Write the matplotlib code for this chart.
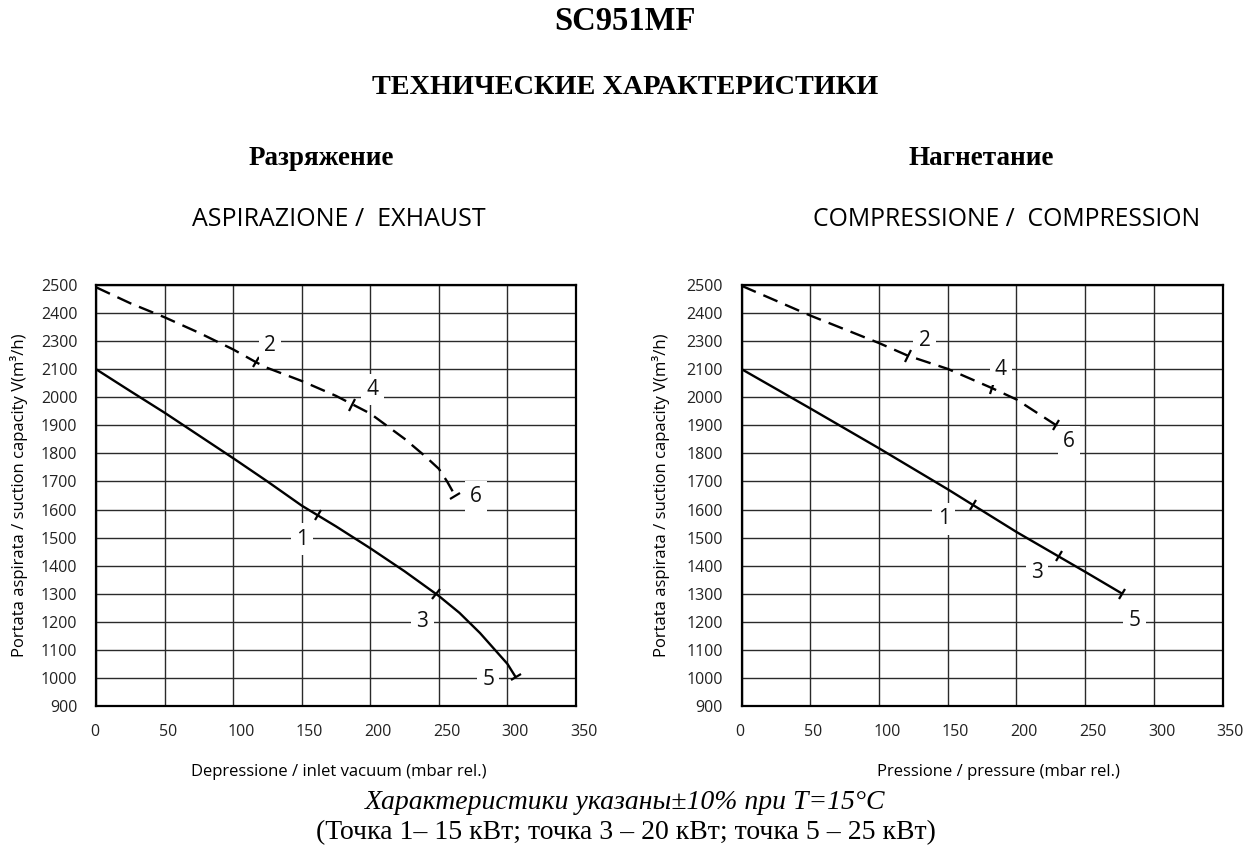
import numpy as np
import matplotlib
matplotlib.use("Agg")
import matplotlib.pyplot as plt
from matplotlib.markers import MarkerStyle
from matplotlib.transforms import Affine2D, ScaledTranslation

# ---------------- data ----------------
x_ticks = [0, 50, 100, 150, 200, 250, 300, 350]
# y labels exactly as printed on the chart (2200 is missing in the original)
y_tick_values = [900, 1000, 1100, 1200, 1300, 1400, 1500, 1600, 1700, 1800,
                 1900, 2000, 2100, 2300, 2400, 2500]

# Left chart: ASPIRAZIONE / EXHAUST
left_solid_x = [0, 25, 50, 75, 100, 125, 150, 175, 200, 225, 250, 265, 280, 290, 300, 306]
left_solid_y = [2100, 2022, 1945, 1864, 1783, 1700, 1614, 1540, 1462, 1380, 1292, 1232,
                1160, 1105, 1050, 1003]
left_dash_x = [0, 25, 50, 75, 100, 117, 125, 150, 175, 200, 225, 240, 250, 256, 262]
left_dash_y = [2492, 2435, 2385, 2330, 2241, 2148, 2109, 2058, 2005, 1942, 1852, 1790,
               1745, 1700, 1648]
left_points = {"1": (162, 1580), "3": (248, 1298), "5": (306, 1003),
               "2": (117, 2148), "4": (187, 1973), "6": (262, 1648)}
left_labels = {"1": (150, 1495), "3": (238, 1200), "5": (286, 995),
               "2": (127, 2266), "4": (201.5, 2028), "6": (277, 1645)}

# Right chart: COMPRESSIONE / COMPRESSION
right_solid_x = [0, 50, 100, 150, 200, 250, 277]
right_solid_y = [2100, 1960, 1818, 1672, 1520, 1378, 1300]
right_dash_x = [0, 50, 100, 121, 150, 182, 200, 229]
right_dash_y = [2497, 2391, 2286, 2196, 2102, 2033, 1992, 1900]
right_points = {"1": (168, 1616), "3": (231, 1435), "5": (277, 1300),
                "2": (121, 2196), "4": (182, 2033), "6": (229, 1900)}
right_labels = {"1": (147, 1567), "3": (215, 1376), "5": (286, 1204),
                "2": (133, 2303), "4": (188.6, 2100), "6": (238, 1841)}

# ---------------- figure ----------------
W, H = 1256, 855
fig = plt.figure(figsize=(W / 100, H / 100), dpi=100)
fig.patch.set_facecolor("white")

SERIF = ["Liberation Serif", "DejaVu Serif"]
SANS = ["Open Sans", "DejaVu Sans"]

pos_idx = np.arange(len(y_tick_values), dtype=float)
vals = np.array(y_tick_values, dtype=float)


def fwd(v):
    return np.interp(v, vals, pos_idx)


def inv(p):
    return np.interp(p, pos_idx, vals)


def px_axes(x0, x1, y0, y1):
    return fig.add_axes([x0 / W, 1 - y1 / H, (x1 - x0) / W, (y1 - y0) / H])


def seg_angle(ax, xs, ys, xt):
    xs = np.asarray(xs, float)
    ys = np.asarray(ys, float)
    i = np.searchsorted(xs, xt)
    i = int(min(max(i, 1), len(xs) - 1))
    p0 = ax.transData.transform((xs[i - 1], ys[i - 1]))
    p1 = ax.transData.transform((xs[i], ys[i]))
    return np.degrees(np.arctan2(p1[1] - p0[1], p1[0] - p0[0]))


def draw_chart(ax, sx, sy, dx, dy, points, labels, xlabel):
    ax.set_yscale("function", functions=(fwd, inv))
    ax.set_xlim(0, 350)
    ax.set_ylim(900, 2500)
    ax.set_xticks(x_ticks)
    ax.set_xticklabels([str(v) for v in x_ticks])
    ax.set_yticks(y_tick_values)
    ax.set_yticklabels([str(v) for v in y_tick_values])
    ax.minorticks_off()
    ax.grid(True, color="#2a2a2a", linewidth=1.0)
    ax.set_axisbelow(True)
    for s in ax.spines.values():
        s.set_linewidth(1.6)
        s.set_color("black")
    ax.tick_params(axis="both", length=0, labelsize=11.5, colors="#222222")
    ax.tick_params(axis="y", pad=13.5)
    ax.tick_params(axis="x", pad=13)
    for lab in ax.get_yticklabels() + ax.get_xticklabels():
        lab.set_fontfamily(SANS)
    off = ScaledTranslation(-6 / 100, 0, fig.dpi_scale_trans)
    for lab in ax.get_xticklabels():
        lab.set_horizontalalignment("left")
        lab.set_transform(lab.get_transform() + off)

    ax.plot(sx, sy, color="black", linewidth=1.7, solid_capstyle="butt", zorder=3)
    ax.plot(dx, dy, color="black", linewidth=1.7, dashes=(6.5, 3.5), zorder=3)

    for key, (xt, yt) in points.items():
        if key in ("1", "3", "5"):
            a = seg_angle(ax, sx, sy, xt)
        else:
            a = seg_angle(ax, dx, dy, xt)
        m = MarkerStyle("|", transform=Affine2D().rotate_deg(a))
        ax.plot([xt], [yt], marker=m, markersize=9, markeredgewidth=1.6,
                color="black", linestyle="none", zorder=4)

    for key, (xl, yl) in labels.items():
        ax.text(xl, yl, key, ha="center", va="center", fontsize=15,
                family=SANS, color="#111111", zorder=5,
                bbox=dict(boxstyle="square,pad=0.25", facecolor="white",
                          edgecolor="none"))

    ax.set_ylabel("Portata aspirata / suction capacity V(m³/h)", family=SANS,
                  fontsize=12, labelpad=8)
    ax.set_xlabel(xlabel, family=SANS, fontsize=12, labelpad=14)


axL = px_axes(96, 576, 285, 706)
axR = px_axes(741.7, 1222.6, 285, 706)

draw_chart(axL, left_solid_x, left_solid_y, left_dash_x, left_dash_y,
           left_points, left_labels, "Depressione / inlet vacuum (mbar rel.)")
draw_chart(axR, right_solid_x, right_solid_y, right_dash_x, right_dash_y,
           right_points, right_labels, "Pressione / pressure (mbar rel.)")

# place axis labels at reference positions
axL.yaxis.set_label_coords(-(96 - 28) / 480, 0.5)
axR.yaxis.set_label_coords(-(741.7 - 670) / 481, 0.5)
axL.xaxis.set_label_coords((339 - 96) / 480, -(764 - 706) / 421)
axR.xaxis.set_label_coords((998 - 741.7) / 481, -(764 - 706) / 421)


def ftext(x, y, s, **kw):
    fig.text(x / W, 1 - y / H, s, ha="center", va="center", **kw)


ftext(625, 21, "SC951MF", family=SERIF, fontsize=23.5, fontweight="bold")
ftext(625, 88, "ТЕХНИЧЕСКИЕ ХАРАКТЕРИСТИКИ", family=SERIF, fontsize=20.3, fontweight="bold")
ftext(321, 158, "Разряжение", family=SERIF, fontsize=19.5, fontweight="bold")
ftext(981, 158, "Нагнетание", family=SERIF, fontsize=19.5, fontweight="bold")
ftext(339, 219, "ASPIRAZIONE /  EXHAUST", family=SANS, fontsize=18)
ftext(1007, 219, "COMPRESSIONE /  COMPRESSION", family=SANS, fontsize=17.8)
ftext(625, 802, "Характеристики указаны±10% при T=15°C", family=SERIF,
      fontsize=20, style="italic")
ftext(626, 833, "(Точка 1– 15 кВт; точка 3 – 20 кВт; точка 5 – 25 кВт)",
      family=SERIF, fontsize=20)

fig.savefig("out.png", dpi=100, facecolor="white")
